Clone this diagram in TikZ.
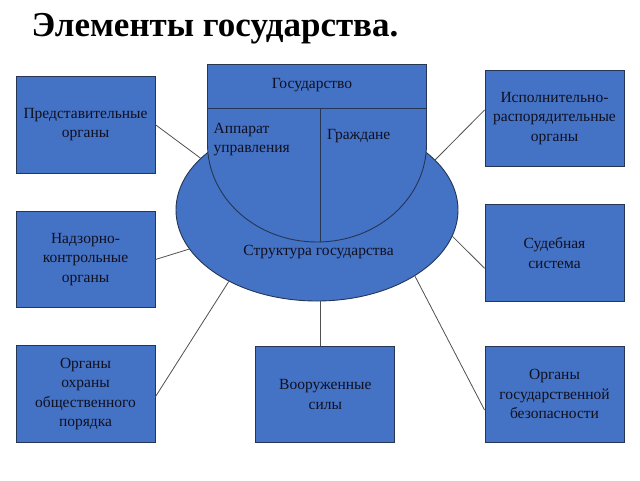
\documentclass[tikz,border=0pt]{standalone}
\usepackage{fontspec}
\setmainfont{Liberation Serif}
\usetikzlibrary{shapes.geometric}
\definecolor{boxblue}{HTML}{4472C4}
\definecolor{edgec}{HTML}{243654}
\definecolor{connc}{HTML}{505050}
\definecolor{txtc}{HTML}{101020}
\begin{document}
\begin{tikzpicture}[x=1pt,y=-1pt,
  box/.style={draw=edgec, line width=0.9pt, fill=boxblue, minimum width=139pt, minimum height=96.5pt, inner sep=0pt, align=center, text=txtc, font=\fontsize{15.5}{19.5}\selectfont},
  conn/.style={draw=connc, line width=0.8pt},
  lbl/.style={text=txtc, font=\fontsize{15.5}{19.5}\selectfont, inner sep=0pt}]
\useasboundingbox[fill=white] (0,0) rectangle (640,480);

\node[anchor=base west, inner sep=0pt, font=\fontsize{35}{40}\selectfont\bfseries, text=black] (title) at (31.5,36) {Элементы государства.};

% big ellipse
\node[ellipse, draw=edgec, fill=boxblue, line width=0.9pt, minimum width=282pt, minimum height=182pt, inner sep=0pt] (ell) at (317,210) {};
\node[lbl] (st) at (318.5,252) {Структура государства};

% U shape
\draw[draw=edgec, fill=boxblue, line width=0.9pt] (207.5,108) -- (207.5,144) .. controls (207.5,198.1) and (256.5,242) .. (317,242) .. controls (377.5,242) and (426.5,198.1) .. (426.5,144) -- (426.5,108) -- cycle;
\draw[draw=edgec, line width=0.9pt] (320,108) -- (320,242);
\node[lbl, anchor=west, align=left] (app) at (213.5,139.5) {Аппарат\\управления};
\node[lbl] (gr) at (358.7,136) {Граждане};

% top box
\node[draw=edgec, fill=boxblue, line width=0.9pt, minimum width=219pt, minimum height=44.3pt, inner sep=0pt] (gos) at (317,86.15) {};
\node[lbl] (gost) at (312,85) {Государство};

% boxes
\node[box] (pred) at (85.5,124.7) {Представительные\\органы};
\node[box] (isp) at (554.5,118.3) {Исполнительно-\\распорядительные\\органы};
\node[box] (nadz) at (85.5,259.5) {Надзорно-\\контрольные\\органы};
\node[box] (sud) at (554.5,253) {Судебная\\система};
\node[box] (ohr) at (85.5,394) {Органы\\охраны\\общественного\\порядка};
\node[box] (vs) at (325.3,394.3) {Вооруженные\\силы};
\node[box] (gb) at (554.5,394.3) {Органы\\государственной\\безопасности};

% connectors
\draw[conn] (pred.east) -- (ell.156);
\draw[conn] ([yshift=8.3pt]isp.west) -- (ell.23);
\draw[conn] (nadz.east) -- (ell.197);
\draw[conn] ([yshift=-15.3pt]sud.west) -- (ell.349);
\draw[conn] ([yshift=-2.7pt]ohr.east) -- (ell.219);
\coordinate (vbtop) at ([xshift=-5.3pt]vs.north);
\draw[conn] (vbtop) -- (vbtop |- ell.south);
\draw[conn] ([yshift=-15.7pt]gb.west) -- (ell.326);
\end{tikzpicture}
\end{document}
